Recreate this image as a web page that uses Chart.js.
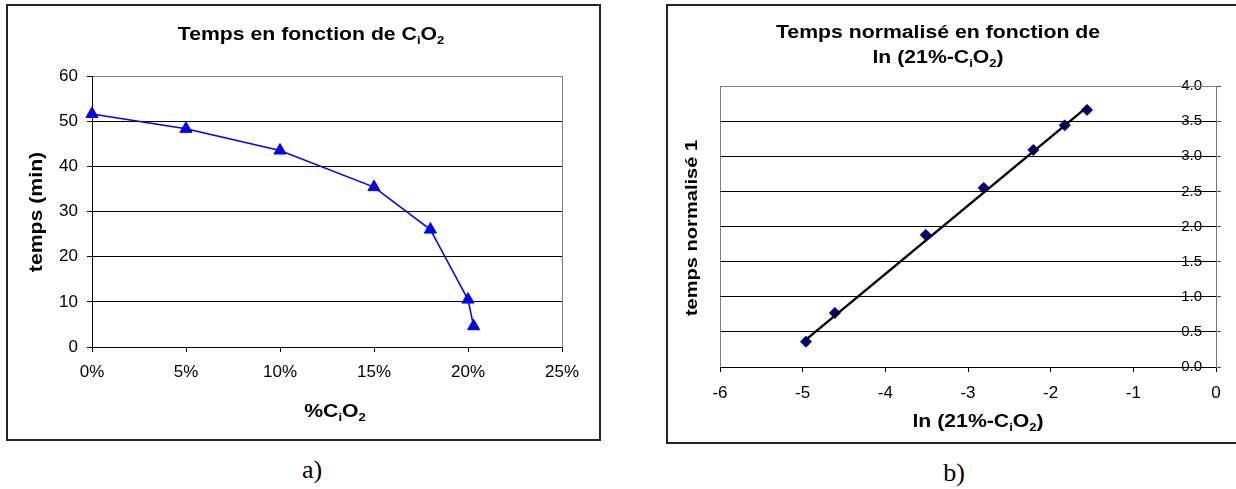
<!DOCTYPE html>
<html>
<head>
<meta charset="utf-8">
<script src="https://cdn.jsdelivr.net/npm/chart.js@4"></script>
<style>
  body { margin: 0; background: #fff; width: 1236px; height: 489px; overflow: hidden; position: relative; }
  .frame { position: absolute; border: 2px solid #262626; box-sizing: border-box; }
  canvas { position: absolute; }
  .cap { position: absolute; font-family: "Liberation Serif", "Times New Roman", serif; font-size: 26px; transform: translateX(-50%); }
</style>
</head>
<body>
<div class="frame" style="left:6px;top:4px;width:595px;height:437px"></div>
<div class="frame" style="left:666px;top:4px;width:590px;height:440px"></div>
<canvas id="left" width="589" height="431" style="left:9px;top:7px"></canvas>
<canvas id="right" width="567" height="434" style="left:669px;top:7px"></canvas>
<div class="cap" style="left:312px;top:455px">a)</div>
<div class="cap" style="left:954px;top:458px">b)</div>
<script>
// a) temps vs %CiO2
const pctO2 = [0, 5, 10, 15, 18, 20, 20.3];
const tempsMin = [51.6, 48.3, 43.5, 35.4, 26.0, 10.5, 4.6];
const pctTicks = [0, 5, 10, 15, 20, 25];
const tempsTicks = [0, 10, 20, 30, 40, 50, 60];

// b) temps normalise vs ln(21%-CiO2)
const lnO2 = [-4.96, -4.61, -3.51, -2.81, -2.21, -1.83, -1.56];
const tempsNorm = [0.36, 0.77, 1.88, 2.55, 3.09, 3.44, 3.66];
const trendX = [-4.96, -1.55];
const trendY = [0.39, 3.71];
const lnTicks = [-6, -5, -4, -3, -2, -1, 0];
const normTicks = [0, 0.5, 1, 1.5, 2, 2.5, 3, 3.5, 4];

const FONT = '"Liberation Sans", Arial, sans-serif';
const STRETCH = 1.18;

// text with subscripts: parts = [[text, isSub], ...], centred on x,y
function drawRich(ctx, parts, x, y, size, rot) {
  const fontFor = sub => `bold ${sub ? Math.round(size * 0.62) : size}px ${FONT}`;
  ctx.save();
  ctx.translate(x, y);
  if (rot) ctx.rotate(rot);
  ctx.scale(STRETCH, 1);
  let total = 0;
  parts.forEach(([t, sub]) => { ctx.font = fontFor(sub); total += ctx.measureText(t).width; });
  let cx = -total / 2;
  ctx.fillStyle = "#000";
  ctx.textBaseline = "alphabetic";
  ctx.textAlign = "left";
  parts.forEach(([t, sub]) => {
    ctx.font = fontFor(sub);
    ctx.fillText(t, cx, size * 0.36 + (sub ? size * 0.22 : 0));
    cx += ctx.measureText(t).width;
  });
  ctx.restore();
}

function textPlugin(items) {
  return {
    id: "richText",
    afterDraw(chart) {
      items.forEach(it => drawRich(chart.ctx, it.parts, it.x, it.y, it.size, it.rot));
    },
  };
}

// grey frame round the plot area, axes are drawn over it
const plotFrame = {
  id: "plotFrame",
  beforeDraw(chart) {
    const { ctx, chartArea: a } = chart;
    ctx.save();
    ctx.strokeStyle = "#808080";
    ctx.lineWidth = 1;
    ctx.strokeRect(Math.round(a.left) + 0.5, Math.round(a.top) + 0.5, Math.round(a.right - a.left), Math.round(a.bottom - a.top));
    ctx.restore();
  },
};

const setTicks = list => s => { s.ticks = list.map(v => ({ value: v })); };

new Chart(document.getElementById("left"), {
  type: "scatter",
  data: {
    datasets: [{
      data: pctO2.map((x, i) => ({ x, y: tempsMin[i] })),
      showLine: true,
      clip: false,
      borderColor: "#0000ff",
      backgroundColor: "#0000ff",
      borderWidth: 1.5,
      pointStyle: "triangle",
      pointRadius: 7,
      pointBorderWidth: 1,
      tension: 0,
    }],
  },
  options: {
    responsive: false,
    animation: false,
    events: [],
    layout: { padding: { left: 0, top: 69, right: 36, bottom: 0 } },
    plugins: { legend: { display: false }, tooltip: { enabled: false } },
    scales: {
      x: {
        type: "linear", min: 0, max: 25,
        afterBuildTicks: setTicks(pctTicks),
        afterFit(s) { s.height = 91; },
        ticks: { callback: v => v + "%", font: { size: 17, family: FONT }, color: "#000", padding: 10, maxRotation: 0, autoSkip: false },
        grid: { drawOnChartArea: false, tickLength: 5, color: "#000" },
        border: { color: "#000" },
      },
      y: {
        min: 0, max: 60,
        afterBuildTicks: setTicks(tempsTicks),
        afterFit(s) { s.width = 83; },
        ticks: { font: { size: 17, family: FONT }, color: "#000", padding: 9, autoSkip: false },
        grid: { color: c => (c.tick && c.tick.value === 60 ? "#808080" : "#000"), tickColor: "#000", tickLength: 5 },
        border: { color: "#000" },
      },
    },
  },
  plugins: [plotFrame, textPlugin([
    { parts: [["Temps en fonction de C", 0], ["i", 1], ["O", 0], ["2", 1]], x: 302, y: 27, size: 18 },
    { parts: [["%C", 0], ["i", 1], ["O", 0], ["2", 1]], x: 326, y: 404, size: 18 },
    { parts: [["temps (min)", 0]], x: 27, y: 205, size: 18, rot: -Math.PI / 2 },
  ])],
});

new Chart(document.getElementById("right"), {
  type: "scatter",
  data: {
    datasets: [{
      data: trendX.map((x, i) => ({ x, y: trendY[i] })),
      showLine: true,
      borderColor: "#000",
      borderWidth: 2.5,
      pointRadius: 0,
    }, {
      data: lnO2.map((x, i) => ({ x, y: tempsNorm[i] })),
      showLine: false,
      clip: false,
      pointStyle: "rectRot",
      pointRadius: 5.5,
      pointBorderWidth: 1,
      backgroundColor: "#000080",
      borderColor: "#000080",
    }],
  },
  options: {
    responsive: false,
    animation: false,
    events: [],
    layout: { padding: { left: 51, top: 79, right: 0, bottom: 0 } },
    plugins: { legend: { display: false }, tooltip: { enabled: false } },
    scales: {
      x: {
        type: "linear", min: -6, max: 0,
        afterBuildTicks: setTicks(lnTicks),
        afterFit(s) { s.height = 74; },
        ticks: { font: { size: 17, family: FONT }, color: "#000", padding: 11, maxRotation: 0, autoSkip: false },
        grid: { drawOnChartArea: false, tickLength: 5, color: "#000" },
        border: { color: "#000" },
      },
      y: {
        position: "right", min: 0, max: 4,
        afterBuildTicks: setTicks(normTicks),
        afterFit(s) { s.width = 20; },
        ticks: { mirror: true, z: -2, padding: -14, callback: v => v.toFixed(1), font: { size: 15, family: FONT }, color: "#000", autoSkip: false },
        grid: { color: c => (c.tick && c.tick.value === 4 ? "#808080" : "#000"), tickColor: "#555", tickLength: 5 },
        border: { color: "#777" },
      },
    },
  },
  plugins: [plotFrame, textPlugin([
    { parts: [["Temps normalisé en fonction de", 0]], x: 269, y: 25, size: 18 },
    { parts: [["ln (21%-C", 0], ["i", 1], ["O", 0], ["2", 1], [")", 0]], x: 269, y: 50, size: 18 },
    { parts: [["ln (21%-C", 0], ["i", 1], ["O", 0], ["2", 1], [")", 0]], x: 309, y: 414, size: 18 },
    { parts: [["temps normalisé 1", 0]], x: 22, y: 221, size: 17, rot: -Math.PI / 2 },
  ])],
});
</script>
</body>
</html>
